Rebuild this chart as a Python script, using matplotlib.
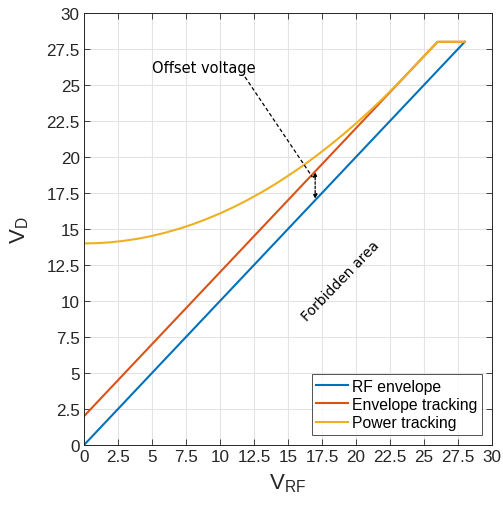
import matplotlib
matplotlib.use("Agg")
import matplotlib.pyplot as plt
import numpy as np

plt.rcParams['font.family'] = ['Liberation Sans', 'DejaVu Sans']
plt.rcParams['mathtext.default'] = 'regular'

# RF envelope: drain voltage equals the RF amplitude
rf_x = [0, 28]
rf_y = [0, 28]

# envelope tracking: fixed offset above the envelope, clipped at the supply
et_x = [0, 26, 28]
et_y = [2, 28, 28]

# power tracking curve
pt_x = [0, 1, 2, 3, 4, 5, 6, 7, 8, 9, 10, 11, 12, 13, 14, 15, 16, 17, 18,
        19, 20, 21, 22, 23, 24, 25, 26, 28]
pt_y = [14.0, 14.02, 14.08, 14.19, 14.33, 14.52, 14.75, 15.02, 15.33, 15.69,
        16.08, 16.52, 17.0, 17.52, 18.08, 18.69, 19.33, 20.02, 20.75, 21.52,
        22.33, 23.19, 24.08, 25.02, 26.0, 27.0, 28.0, 28.0]

ticks = np.arange(0, 30.1, 2.5)
tick_labels = ["0", "2.5", "5", "7.5", "10", "12.5", "15", "17.5", "20",
               "22.5", "25", "27.5", "30"]

fig = plt.figure(figsize=(5.03, 5.10), dpi=100)
ax = fig.add_axes([0.167, 0.1255, 0.811, 0.847])

ax.plot(rf_x, rf_y, color="#0072BD", lw=1.5, label="RF envelope")
ax.plot(et_x, et_y, color="#D95319", lw=1.5, label="Envelope tracking")
ax.plot(pt_x, pt_y, color="#EDB120", lw=1.5, label="Power tracking")

ax.set_xlim(0, 30)
ax.set_ylim(0, 30)
ax.set_xticks(ticks)
ax.set_yticks(ticks)
ax.set_xticklabels(tick_labels)
ax.set_yticklabels(tick_labels)
ax.tick_params(direction="in", top=True, right=True, labelsize=12.3,
               colors="#262626", length=4, width=0.6, pad=3)
for s in ax.spines.values():
    s.set_color("#262626")
    s.set_linewidth(0.7)
ax.grid(True, color="#e3e3e3", lw=0.8)
ax.set_axisbelow(True)

ax.set_xlabel("V$_{RF}$", fontsize=16, color="#262626", labelpad=5)
ax.set_ylabel("V$_{D}$", fontsize=16, color="#262626", labelpad=11)

# offset voltage annotation
ax.text(5.0, 26.25, "Offset voltage", family="DejaVu Sans", fontsize=10.5,
        va="center", ha="left")
ax.plot([11.84, 16.8], [25.56, 18.6], color="black", lw=0.9, ls=(0, (3, 2)))
ax.annotate("", xy=(17.0, 18.95), xytext=(17.0, 17.1),
            arrowprops=dict(arrowstyle="<|-|>", color="black", lw=0.9,
                            ls=(0, (2, 1.5)), mutation_scale=6,
                            shrinkA=0, shrinkB=0))

ax.text(18.9, 11.4, "Forbidden area", family="DejaVu Sans", fontsize=10,
        rotation=46, ha="center", va="center")

leg = ax.legend(loc="lower right", fontsize=11.3, frameon=True, fancybox=False,
                edgecolor="#262626", borderpad=0.3, labelspacing=0.2,
                handlelength=2.0, handletextpad=0.25, borderaxespad=0.65)
leg.get_frame().set_linewidth(0.7)

fig.savefig("out.png", dpi=100)
